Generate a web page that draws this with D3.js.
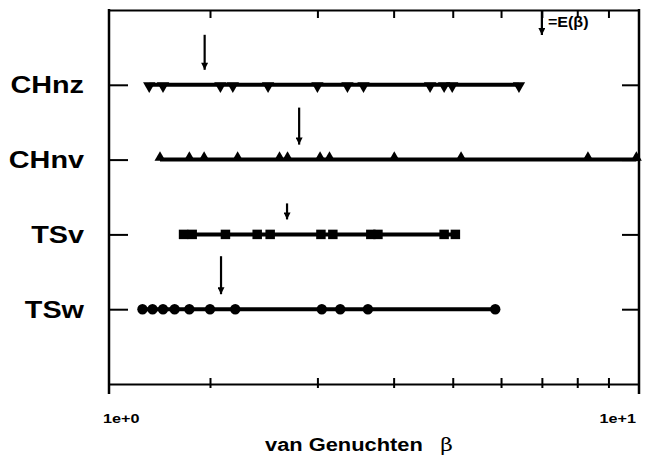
<!DOCTYPE html>
<html>
<head>
<meta charset="utf-8">
<script src="https://cdn.jsdelivr.net/npm/d3@7"></script>
<style>
  body { margin: 0; background: #fff; }
  svg { font-family: "Liberation Sans", Arial, sans-serif; }
</style>
</head>
<body>
<div id="chart"></div>
<script>
// data (beta values, log axis)
var categories = ["CHnz", "CHnv", "TSv", "TSw"];
var chnz = [1.59, 1.675, 2.08, 2.18, 2.49, 3.0, 3.36, 3.57, 4.59, 4.84, 4.99, 6.42];
var chnv = [1.656, 1.85, 1.956, 2.22, 2.6, 2.68, 3.03, 3.14, 4.01, 5.16, 8.33, 10.0];
var tsv = [1.81, 1.87, 2.12, 2.39, 2.51, 3.04, 3.18, 3.67, 3.77, 4.84, 5.05];
var tsw = [1.55, 1.61, 1.675, 1.75, 1.85, 2.0, 2.2, 3.05, 3.27, 3.63, 5.87];
var means = [1.96, 2.8, 2.675, 2.085]; // E(beta), shown as arrows
var xTicks = [2, 3, 4, 5, 6, 7, 8, 9];
var xEndLabels = ["1e+0", "1e+1"];
var legendMean = 7;

var series = [chnz, chnv, tsv, tsw];
var shapes = [
  { sym: d3.symbolTriangle, size: 66, rot: 180, dy: 1 },
  { sym: d3.symbolTriangle, size: 52, rot: 0, dy: -2 },
  { sym: d3.symbolSquare, size: 90, rot: 0, dy: 0 },
  { sym: d3.symbolCircle, size: 85, rot: 0, dy: 0 }
];
var arrowLen = [43, 45, 24, 46];

var W = 659, H = 463;
var pLeft = 109, pRight = 639, pTop = 10, pBottom = 384;

var svg = d3.select("#chart").append("svg")
  .attr("width", W).attr("height", H);

// log x scale (the printed axis starts a little above 1)
var x = d3.scaleLog().domain([1.366, 10.1]).range([pLeft, pRight]);
var y = d3.scalePoint().domain(categories).range([pTop, pBottom]).padding(1);

// arrow head
svg.append("defs").append("marker")
  .attr("id", "head")
  .attr("viewBox", "0 0 10 10")
  .attr("refX", 5).attr("refY", 10)
  .attr("markerWidth", 7).attr("markerHeight", 9)
  .attr("markerUnits", "userSpaceOnUse")
  .attr("orient", "0")
  .append("path")
  .attr("d", "M0,0 L10,0 L5,10 Z")
  .attr("fill", "#000");

// frame
svg.append("g")
  .attr("transform", "translate(0," + pTop + ")")
  .call(d3.axisTop(x).tickValues(xTicks).tickFormat("").tickSizeInner(-8).tickSizeOuter(0))
  .call(function (g) {
    g.select(".domain").attr("stroke-width", 2);
    g.selectAll(".tick line").attr("stroke-width", 2);
  });

svg.append("g")
  .attr("transform", "translate(0," + pBottom + ")")
  .call(d3.axisBottom(x).tickValues(xTicks).tickFormat("").tickSizeOuter(0))
  .call(function (g) {
    g.select(".domain").attr("stroke-width", 2);
    g.selectAll(".tick line").attr("y1", -6).attr("y2", 4).attr("stroke-width", 2);
  });

svg.append("g")
  .attr("transform", "translate(" + pLeft + ",0)")
  .call(d3.axisLeft(y).tickFormat("").tickSizeInner(-19).tickSizeOuter(0))
  .call(function (g) {
    g.select(".domain").remove();
    g.selectAll(".tick line").attr("stroke-width", 2);
  });

svg.append("g")
  .attr("transform", "translate(" + pRight + ",0)")
  .call(d3.axisRight(y).tickFormat("").tickSizeInner(-17).tickSizeOuter(0))
  .call(function (g) {
    g.select(".domain").remove();
    g.selectAll(".tick line").attr("stroke-width", 2);
  });

svg.append("line")
  .attr("x1", pLeft).attr("x2", pLeft).attr("y1", pTop - 1).attr("y2", pBottom + 10)
  .attr("stroke", "#000").attr("stroke-width", 2.5);
svg.append("line")
  .attr("x1", pRight).attr("x2", pRight).attr("y1", pTop - 1).attr("y2", pBottom + 10)
  .attr("stroke", "#000").attr("stroke-width", 2.5);

// category labels
svg.append("g").selectAll("text")
  .data(categories)
  .enter()
  .append("text")
  .attr("transform", function (d) { return "translate(84," + y(d) + ") scale(1.2,1)"; })
  .attr("text-anchor", "end")
  .attr("dy", "0.36em")
  .attr("font-size", 24)
  .attr("font-weight", "bold")
  .text(function (d) { return d; });

// series: range line + markers
series.forEach(function (vals, i) {
  var cy = y(categories[i]);
  var g = svg.append("g");
  g.append("line")
    .attr("x1", x(d3.min(vals))).attr("x2", x(d3.max(vals)))
    .attr("y1", cy).attr("y2", cy)
    .attr("stroke", "#000").attr("stroke-width", 4);
  var s = shapes[i];
  g.selectAll("path")
    .data(vals)
    .enter()
    .append("path")
    .attr("d", d3.symbol().type(s.sym).size(s.size))
    .attr("transform", function (d) {
      return "translate(" + x(d) + "," + (cy + s.dy) + ") rotate(" + s.rot + ")";
    })
    .attr("fill", "#000");

  // mean arrow
  svg.append("line")
    .attr("x1", x(means[i])).attr("x2", x(means[i]))
    .attr("y1", cy - 7 - arrowLen[i]).attr("y2", cy - 15)
    .attr("stroke", "#000").attr("stroke-width", 2.2)
    .attr("marker-end", "url(#head)");
});

// legend arrow
svg.append("line")
  .attr("x1", x(legendMean)).attr("x2", x(legendMean))
  .attr("y1", pTop).attr("y2", 35)
  .attr("stroke", "#000").attr("stroke-width", 2.2)
  .attr("marker-end", "url(#head)");
svg.append("text")
  .attr("transform", "translate(" + (x(legendMean) + 6) + ",27) scale(1.15,1)")
  .attr("font-size", 14)
  .attr("font-weight", "bold")
  .text("=E(β)");

// x end labels
svg.append("text")
  .attr("transform", "translate(103,423) scale(1.2,1)")
  .attr("font-size", 13.5).attr("font-weight", "bold")
  .text(xEndLabels[0]);
svg.append("text")
  .attr("transform", "translate(636,423) scale(1.2,1)")
  .attr("text-anchor", "end")
  .attr("font-size", 13.5).attr("font-weight", "bold")
  .text(xEndLabels[1]);

// x title
var title = svg.append("text")
  .attr("transform", "translate(265,451) scale(1.15,1)")
  .attr("font-size", 19).attr("font-weight", "bold");
title.append("tspan").text("van Genuchten ");
title.append("tspan")
  .attr("dx", 10)
  .attr("font-family", "'DejaVu Serif', 'Liberation Serif', serif")
  .attr("font-weight", "normal")
  .text("β");
</script>
</body>
</html>
